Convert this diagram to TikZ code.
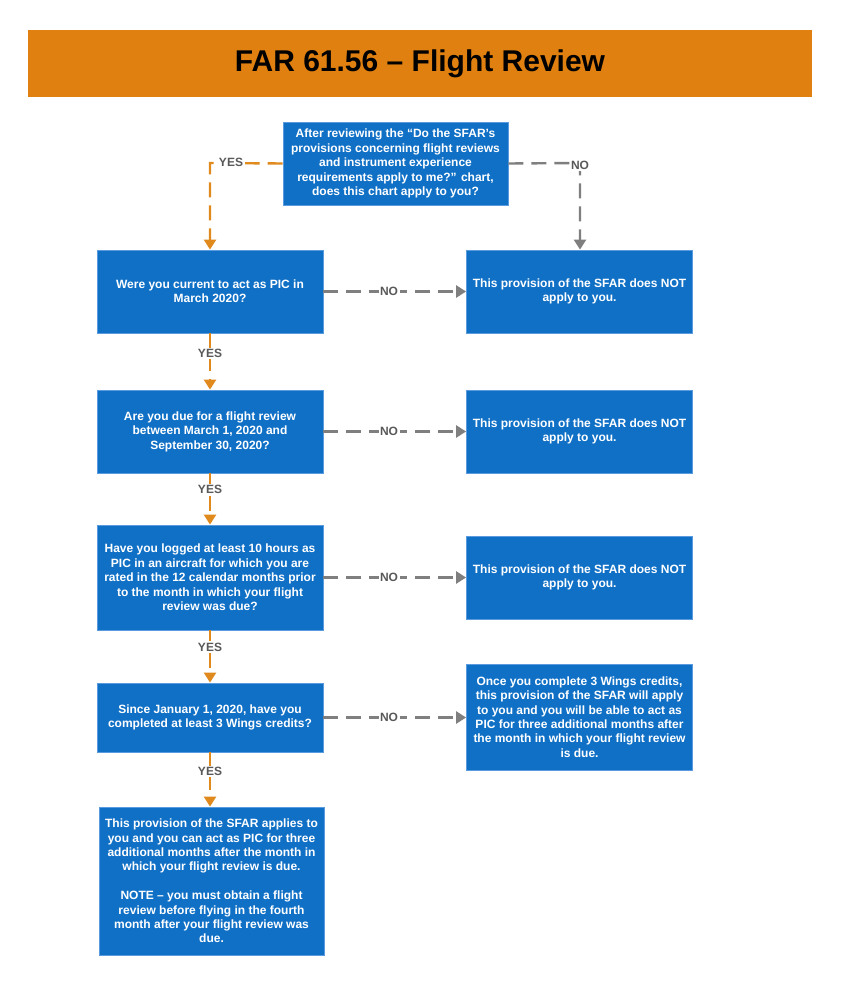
\documentclass[tikz,border=0pt]{standalone}
\usepackage{fontspec}
\setmainfont{Liberation Sans}
\usetikzlibrary{arrows.meta}
\definecolor{titleorange}{HTML}{DF8010}
\definecolor{boxblue}{HTML}{1070C6}
\definecolor{boxedge}{HTML}{5A9BE0}
\definecolor{yesorange}{HTML}{E08A1E}
\definecolor{nogrey}{HTML}{7F7F7F}
\definecolor{labelgrey}{HTML}{595959}
\tikzset{
  qbox/.style={fill=boxblue, draw=boxedge, line width=0.8pt, text=white,
    font=\fontsize{12}{14.4}\selectfont\bfseries, align=center,
    minimum width=226pt, inner sep=0pt},
  yesline/.style={draw=yesorange, line width=2.4pt, dash pattern=on 15pt off 8pt,
    -{Triangle[width=12pt,length=10pt]}},
  noline/.style={draw=nogrey, line width=2.4pt, dash pattern=on 15pt off 8pt,
    -{Triangle[width=12pt,length=10pt]}},
  lbl/.style={fill=white, text=labelgrey, font=\fontsize{12}{12}\selectfont\bfseries,
    inner sep=1.5pt},
}
\begin{document}
\begin{tikzpicture}[x=1pt,y=-1pt]
\useasboundingbox (0,0) rectangle (840,981);
\fill[white] (0,0) rectangle (840,981);
% title
\node[fill=titleorange, minimum width=784pt, minimum height=67pt, inner sep=0pt,
  font=\fontsize{30}{34}\selectfont\bfseries] (title) at (420,63.5) {FAR 61.56 – Flight Review};
% boxes
\node[qbox, minimum width=225pt, minimum height=83pt] (top) at (395.5,163.5)
  {After reviewing the “Do the SFAR’s\\provisions concerning flight reviews\\and instrument experience\\requirements apply to me?” chart,\\does this chart apply to you?};
\node[qbox, minimum height=83pt] (q1) at (210,291.5) {Were you current to act as PIC in\\March 2020?};
\node[qbox, minimum height=83pt] (r1) at (579.5,291.5) {This provision of the SFAR does NOT\\apply to you.};
\node[qbox, minimum height=83pt] (q2) at (210,431.5) {Are you due for a flight review\\between March 1, 2020 and\\September 30, 2020?};
\node[qbox, minimum height=83pt] (r2) at (579.5,431.5) {This provision of the SFAR does NOT\\apply to you.};
\node[qbox, minimum height=105pt] (q3) at (210,577.5) {Have you logged at least 10 hours as\\PIC in an aircraft for which you are\\rated in the 12 calendar months prior\\to the month in which your flight\\review was due?};
\node[qbox, minimum height=83pt] (r3) at (579.5,577.5) {This provision of the SFAR does NOT\\apply to you.};
\node[qbox, minimum height=69pt] (q4) at (210,717.5) {Since January 1, 2020, have you\\completed at least 3 Wings credits?};
\node[qbox, minimum height=106pt] (r4) at (579.5,717) {Once you complete 3 Wings credits,\\this provision of the SFAR will apply\\to you and you will be able to act as\\PIC for three additional months after\\the month in which your flight review\\is due.};
\node[qbox, minimum width=225pt, minimum height=148pt] (r5) at (211.5,881) {This provision of the SFAR applies to\\you and you can act as PIC for three\\additional months after the month in\\which your flight review is due.\\[14.4pt]NOTE – you must obtain a flight\\review before flying in the fourth\\month after your flight review was\\due.};
% top connectors
\coordinate (yc) at (210,163);
\coordinate (nc) at (580,163);
\draw[yesline] (top.west) -- (yc) -- (q1.north);
\node[lbl] at (231,162) {YES};
\draw[noline] (top.east) -- (nc) -- (r1.north -| nc);
\node[lbl] at (580,165) {NO};
% vertical YES connectors
\draw[yesline] (q1.south) -- node[lbl, pos=0.36] {YES} (q2.north);
\draw[yesline] (q2.south) -- node[lbl, pos=0.32] {YES} (q3.north);
\draw[yesline] (q3.south) -- node[lbl, pos=0.32] {YES} (q4.north);
\draw[yesline] (q4.south) -- node[lbl, pos=0.35] {YES} (q4.south |- r5.north);
% horizontal NO connectors
\draw[noline] (q1.east) -- node[lbl, pos=0.46] {NO} (r1.west);
\draw[noline] (q2.east) -- node[lbl, pos=0.46] {NO} (r2.west);
\draw[noline] (q3.east) -- node[lbl, pos=0.46] {NO} (r3.west);
\draw[noline] (q4.east) -- node[lbl, pos=0.46] {NO} (r4.west |- q4.east);
\end{tikzpicture}
\end{document}
